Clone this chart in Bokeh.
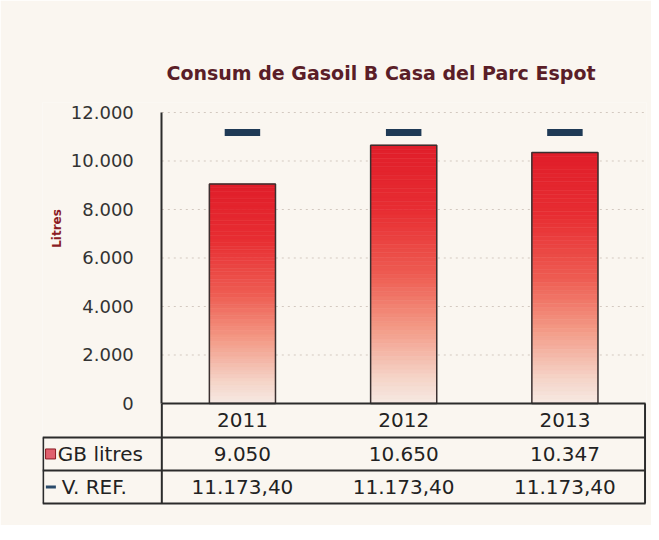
import numpy as np
from bokeh.plotting import figure
from bokeh.models import Range1d, FixedTicker
from bokeh.embed import file_html
from bokeh.resources import INLINE
from bokeh.core.properties import value

# ---- data ----
years = ["2011", "2012", "2013"]
gb_litres = [9050, 10650, 10347]
v_ref = [11173.40, 11173.40, 11173.40]
y_ticks = [0, 2000, 4000, 6000, 8000, 10000, 12000]
y_tick_labels = ["0", "2.000", "4.000", "6.000", "8.000", "10.000", "12.000"]
series_names = ["GB litres", "V. REF."]
title_text = "Consum de Gasoil B Casa del Parc Espot"
y_label = "Litres"


def fmt_ca(v, decimals=0):
    s = f"{v:,.{decimals}f}"
    return s.replace(",", "X").replace(".", ",").replace("X", ".")


BG = "#faf6f0"
FONT = "DejaVu Sans"
LINE = "#2b2b2b"
TXT = "#222222"

# layout constants (data units of the shared frame)
X_LEFT = -0.74          # left edge of the table's label column
HDR_BOTTOM = -1400      # bottom of the year header row
ROW_H = 1362            # height of a table row
Y_MIN = -4206
Y_MAX = 12412
TABLE_BOTTOM = HDR_BOTTOM - 2 * ROW_H

cx = [i + 0.5 for i in range(len(years))]

p = figure(width=651, height=525, x_range=Range1d(X_LEFT, 3.006),
           y_range=Range1d(Y_MIN, Y_MAX), x_axis_location=None,
           output_backend="svg", toolbar_location=None,
           min_border_left=42, min_border_right=5, min_border_top=102,
           min_border_bottom=20)
p.background_fill_color = BG
p.border_fill_color = BG
p.outline_line_color = None
p.grid.visible = False

p.title.text = title_text
p.title.text_font = FONT
p.title.text_font_size = "19px"
p.title.text_font_style = "bold"
p.title.text_color = "#5a1e28"
p.title.align = "left"
p.title.offset = 124
p.title.standoff = 38

ax = p.yaxis[0]
ax.fixed_location = 0
ax.bounds = (0, 12000)
ax.ticker = FixedTicker(ticks=y_ticks)
ax.major_label_overrides = {t: l for t, l in zip(y_ticks, y_tick_labels)}
ax.major_label_text_font = FONT
ax.major_label_text_font_size = "18px"
ax.major_label_text_color = "#333333"
ax.major_tick_line_color = None
ax.minor_tick_line_color = None
ax.major_label_standoff = 22
ax.axis_line_color = LINE
ax.axis_line_width = 2

# y label
p.text(x=[-0.65], y=[7216], text=[y_label], angle=np.pi / 2,
       text_font=value(FONT), text_font_size="12px", text_font_style="bold",
       text_color="#8b1c24", text_align="center", text_baseline="middle")

# dotted grid lines between the axis and the right edge
gy = y_ticks[1:]
p.segment(x0=[0] * len(gy), y0=gy, x1=[3] * len(gy), y1=gy,
          line_color="#d3c9c0", line_dash="2 4", line_width=1)

# gradient-filled bars built from the data values
stops_t = [0.0, 0.1, 0.3, 0.5, 0.75, 1.0]
stops_rgb = np.array([[246, 233, 227], [245, 212, 200], [243, 152, 132],
                      [238, 92, 82], [231, 45, 50], [224, 30, 42]], dtype=float)
N = 60
xs, bottoms, tops, colors = [], [], [], []
for xc, v in zip(cx, gb_litres):
    for k in range(N):
        t = (k + 0.5) / N
        rgb = [int(round(np.interp(t, stops_t, stops_rgb[:, c]))) for c in range(3)]
        xs.append(xc)
        bottoms.append(v * k / N)
        tops.append(v * (k + 1) / N)
        colors.append("#%02x%02x%02x" % tuple(rgb))
p.vbar(x=xs, bottom=bottoms, top=tops, width=0.41, fill_color=colors,
       line_color=colors, line_width=0.6)
p.vbar(x=cx, top=gb_litres, width=0.41, fill_color=None,
       line_color="#3a3030", line_width=1.5)

p.rect(x=cx, y=v_ref, width=0.22, height=7, height_units="screen",
       fill_color="#1f3a56", line_color=None)

# ---- data table ----
hy = [0, HDR_BOTTOM, HDR_BOTTOM - ROW_H, TABLE_BOTTOM]
hx0 = [0, X_LEFT, X_LEFT, X_LEFT]
p.segment(x0=hx0, y0=hy, x1=[3] * 4, y1=hy, line_color=LINE, line_width=2)
p.segment(x0=[X_LEFT + 0.004, 0, 3 - 0.003], y0=[HDR_BOTTOM, 0, 0],
          x1=[X_LEFT + 0.004, 0, 3 - 0.003], y1=[TABLE_BOTTOM] * 3,
          line_color=LINE, line_width=2)

row_hdr = HDR_BOTTOM / 2
row_gb = HDR_BOTTOM - ROW_H / 2
row_ref = HDR_BOTTOM - 1.5 * ROW_H

common = dict(text_font=value(FONT), text_font_size="20px", text_color=TXT,
              text_align="center", text_baseline="middle")
p.text(x=cx, y=[row_hdr] * 3, text=years, **common)
p.text(x=cx, y=[row_gb] * 3, text=[fmt_ca(v) for v in gb_litres], **common)
p.text(x=cx, y=[row_ref] * 3, text=[fmt_ca(v, 2) for v in v_ref], **common)

left = dict(text_font=value(FONT), text_font_size="20px", text_color=TXT,
            text_align="left", text_baseline="middle")
p.text(x=[-0.645], y=[row_gb], text=[series_names[0]], **left)
p.text(x=[-0.62], y=[row_ref], text=[series_names[1]], **left)
p.scatter(x=[-0.69], y=[row_gb], marker="square", size=10,
          fill_color="#e0606e", line_color="#8b1c24", line_width=1)
p.rect(x=[-0.688], y=[row_ref], width=10, height=3, width_units="screen",
       height_units="screen", fill_color="#2a4a6a", line_color=None)

open("out.html", "w").write(file_html(p, INLINE))
